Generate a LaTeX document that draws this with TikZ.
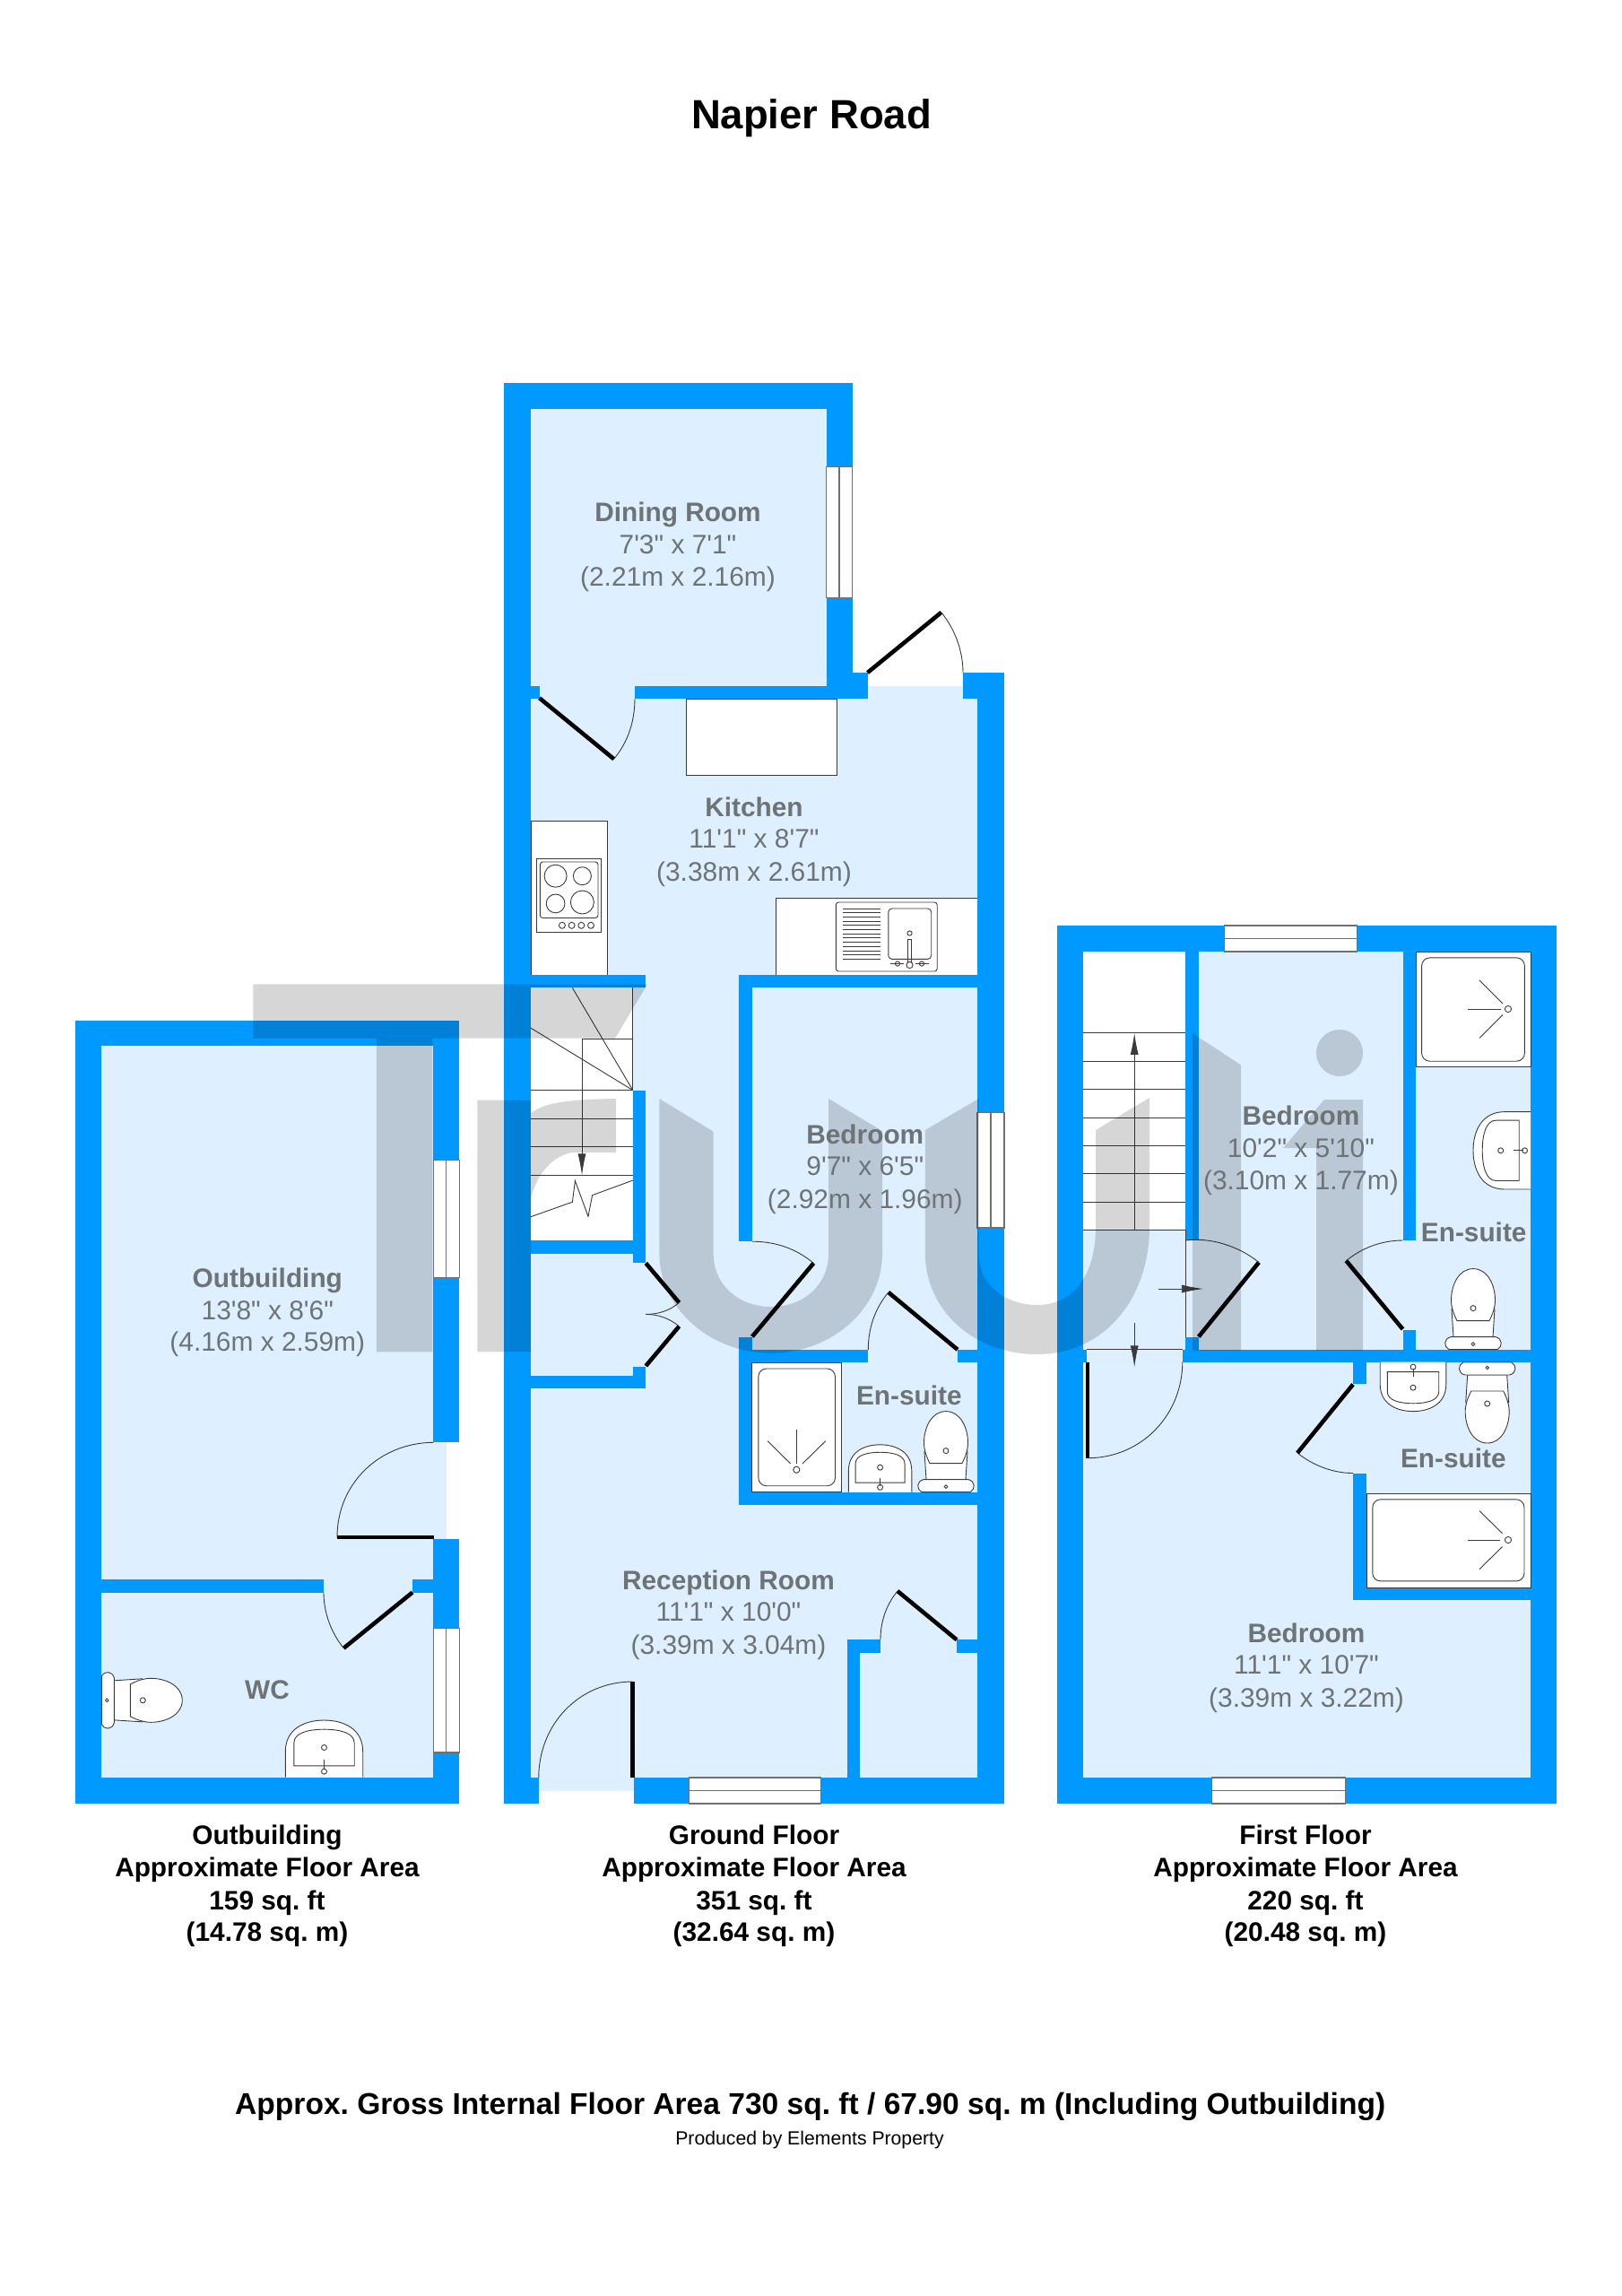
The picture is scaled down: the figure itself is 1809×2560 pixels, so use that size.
\documentclass[tikz,border=0pt]{standalone}
\usepackage{fontspec}
\usetikzlibrary{arrows.meta}
\newfontfamily\lib{Liberation Sans}
\frenchspacing
\definecolor{wallc}{HTML}{0099FF}
\definecolor{floorc}{HTML}{DEEFFF}
\definecolor{labc}{HTML}{6E7376}
\definecolor{fixc}{HTML}{3A3A3A}
\definecolor{winc}{HTML}{707070}
\tikzset{
  fix/.style={draw=fixc,line width=.9pt},
  doorleaf/.style={draw=black,line width=4.6pt},
  doorarc/.style={draw=fixc,line width=.9pt},
  whitefix/.style={fix,fill=white},
  winbox/.style={draw=winc,line width=1.2pt,fill=white},
  roomb/.style={anchor=base,inner sep=0pt,text=labc,font=\lib\bfseries\fontsize{29.8}{30}\selectfont},
  roomr/.style={anchor=base,inner sep=0pt,text=labc,font=\lib\fontsize{29.9}{30}\selectfont},
  capb/.style={anchor=base,inner sep=0pt,text=black,font=\lib\bfseries\fontsize{29.8}{30}\selectfont},
  arrowtip/.style={-{Latex[length=24pt,width=9pt]}},
}
\newcommand\wall[4]{\fill[wallc] (#1,#2) rectangle (#3,#4);}
\newcommand\floorr[4]{\fill[floorc] (#1,#2) rectangle (#3,#4);}
\newcommand\winv[4]{\draw[winbox] (#1,#3) rectangle (#2,#4);
  \draw[winc,line width=1.2pt] ({(#1+#2)/2},#3) -- ({(#1+#2)/2},#4);}
\newcommand\winh[4]{\draw[winbox] (#1,#3) rectangle (#2,#4);
  \draw[winc,line width=1.2pt] (#1,{(#3+#4)/2}) -- (#2,{(#3+#4)/2});}
\newcommand\door[6]{%
  \pgfmathsetmacro\dax{(#3-#1)/100}\pgfmathsetmacro\day{(#4-#2)/100}%
  \pgfmathsetmacro\dbx{(#5-#1)/100}\pgfmathsetmacro\dby{(#6-#2)/100}%
  \pgfmathsetmacro\dqa{\dax*\dax+\day*\day}%
  \pgfmathsetmacro\dqb{\dqa+\dax*\dbx+\day*\dby}%
  \pgfmathsetmacro\dkk{4/3*(sqrt(2*\dqa*\dqb)-\dqb)/(\dax*\dby-\day*\dbx)}%
  \draw[doorleaf] (#1,#2) -- (#3,#4);
  \draw[doorarc] (#3,#4) .. controls ({#3-\dkk*\day*100},{#4+\dkk*\dax*100}) and ({#5+\dkk*\dby*100},{#6-\dkk*\dbx*100}) .. (#5,#6);}
\newcommand\toilet[3]{\begin{scope}[shift={(#1,#2)},#3]
  \draw[whitefix] (-22,14) -- (-24,45) -- (24,45) -- (22,14) -- cycle;
  \draw[whitefix] (-27,0) .. controls (-33,3) and (-33,12) .. (-25,14) -- (25,14) .. controls (33,12) and (33,3) .. (27,0) -- cycle;
  \draw[whitefix] (0,90) .. controls (-16,90) and (-24.5,72) .. (-24.5,55) .. controls (-24.5,47) and (-22,40) .. (-18,32) -- (18,32) .. controls (22,40) and (24.5,47) .. (24.5,55) .. controls (24.5,72) and (16,90) .. (0,90) -- cycle;
  \draw[fix] (0,46) circle[radius=3pt];
  \draw[fix] (0,6) circle[radius=1.8pt];
\end{scope}}
\newcommand\basin[3]{\begin{scope}[shift={(#1,#2)},#3]
  \draw[whitefix] (-1,0) -- (-1,.45) .. controls (-1,.85) and (-.5,1) .. (0,1) .. controls (.5,1) and (1,.85) .. (1,.45) -- (1,0);
  \draw[fix] (-.78,.2) -- (-.78,.6) .. controls (-.78,.78) and (-.4,.84) .. (0,.84) .. controls (.4,.84) and (.78,.78) .. (.78,.6) -- (.78,.2) -- cycle;
  \draw[fix] (0,.52) circle[radius=3pt];
  \draw[fix,fill=white] (0,.1) circle[radius=3pt];
  \draw[fix] (0,.13) -- (0,.3);
\end{scope}}
\begin{document}
\begin{tikzpicture}[x=1pt,y=-1pt]
\useasboundingbox (0,0) rectangle (1809,2560);
\fill[white] (0,0) rectangle (1809,2560);

% ---------- floors
\floorr{592}{456}{921.5}{780}
\floorr{592}{779}{1090}{1982}
\floorr{967.5}{765}{1074}{780}
\floorr{600.8}{1981}{707.2}{1996.7}
\floorr{1208}{1061}{1707}{1982}
\floorr{113.3}{1166.4}{483.3}{1981.5}
\floorr{483}{1608.3}{497.7}{1715.7}

% ---------- white fixtures, ground floor
\draw[whitefix] (765.4,779) rectangle (933.8,864.6);
\draw[whitefix] (592,915.6) rectangle (677.8,1087.3);
\draw[whitefix] (865.3,1001.5) rectangle (1090,1087.3);
\fill[white] (592,1101.4) rectangle (705.7,1382.7);

% hob
\draw[whitefix] (598.6,957) rectangle (670,1039);
\draw[fix,rounded corners=3pt] (602.4,961) rectangle (667,1023.5);
\draw[fix] (619.6,976.7) circle[radius=12.5pt];
\draw[fix] (649.4,976.7) circle[radius=10pt];
\draw[fix] (619.6,1007.4) circle[radius=10.4pt];
\draw[fix] (649.4,1006) circle[radius=13pt];
\foreach \kx in {626.9,637.6,648.3,659}{\draw[fix] (\kx,1031.8) circle[radius=3.5pt];}

% sink
\draw[whitefix,rounded corners=3pt] (932.3,1006) rectangle (1045.2,1083);
\draw[fix,rounded corners=4pt] (990.8,1013) rectangle (1038.7,1069.4);
\foreach \i in {0,...,12}{\draw[fix] (939.5,{1013+\i*4.7}) -- (982,{1013+\i*4.7});}
\draw[fix] (1014.5,1040.5) circle[radius=2.6pt];
\draw[fix] (1012.5,1047.4) rectangle (1016.5,1075);
\draw[fix,fill=white] (1014.5,1076) circle[radius=3.6pt];
\draw[fix] (993,1074.5) -- (1008,1074.5);
\draw[fix] (1001,1074.5) circle[radius=2.6pt];
\draw[fix] (1021,1074.5) -- (1036,1074.5);
\draw[fix] (1028,1074.5) circle[radius=2.6pt];

% ---------- white fixtures, first floor
\fill[white] (1208,1061) rectangle (1322.3,1371.4);

% ---------- walls, ground floor
\wall{562}{426.6}{592}{2011}
\wall{592}{1982}{600.8}{2011}
\wall{562}{426.6}{950.6}{456}
\wall{921.5}{426.6}{950.6}{520.3}
\wall{921.5}{666.8}{950.6}{779}
\wall{708}{765}{967.5}{779}
\wall{950.6}{750}{967.5}{779}
\wall{592}{765}{601.6}{779}
\wall{1090}{750}{1120}{2011}
\wall{1074}{750}{1090}{779}
\wall{592}{1087.3}{720.3}{1101.4}
\wall{705.7}{1215.5}{720.3}{1408}
\wall{592}{1382.7}{705.7}{1397.6}
\wall{705.7}{1524}{720.3}{1548.4}
\wall{592}{1533.9}{720.3}{1548.4}
\wall{824.3}{1087.3}{1120}{1101.4}
\wall{824.3}{1087.3}{838.9}{1384.2}
\wall{824.3}{1491.4}{838.9}{1677.8}
\wall{824.3}{1504.8}{968.3}{1519.3}
\wall{1068}{1504.8}{1090}{1519.3}
\wall{824.3}{1663.6}{1120}{1677.8}
\wall{944.5}{1828.3}{959.4}{1982}
\wall{944.5}{1828.3}{982}{1843}
\wall{1067}{1828.3}{1090}{1843}
\wall{707.2}{1982}{1120}{2011}

% ---------- walls, first floor
\wall{1179}{1032}{1736}{1061}
\wall{1179}{1032}{1208}{2011}
\wall{1707}{1032}{1736}{2011}
\wall{1179}{1982}{1736}{2011}
\wall{1322.3}{1061}{1336.8}{1383}
\wall{1322.3}{1491}{1336.8}{1519}
\wall{1564.5}{1061}{1579}{1383}
\wall{1564.5}{1483}{1579}{1504.6}
\wall{1318.8}{1504.6}{1707}{1519}
\wall{1208}{1504.6}{1211.7}{1519}
\wall{1509}{1519}{1524}{1542.5}
\wall{1509}{1642.5}{1524}{1784.3}
\wall{1509}{1770}{1707}{1784.3}

% ---------- walls, outbuilding
\wall{84.3}{1137.6}{512.3}{1166.4}
\wall{84.3}{1137.6}{113.3}{2010.8}
\wall{84.3}{1981.5}{512.3}{2010.8}
\wall{483.3}{1137.6}{512.3}{1608.3}
\wall{483.3}{1715.7}{512.3}{2010.8}
\wall{113.3}{1761}{361}{1775.5}
\wall{460}{1761}{483.3}{1775.5}

% ---------- windows
\winv{921.5}{950.6}{520.3}{666.8}
\winv{1090}{1120}{1240.7}{1369}
\winh{768.5}{915.4}{1982}{2011}
\winh{1365.5}{1513.6}{1032}{1061}
\winh{1351.7}{1500.6}{1982}{2011}
\winv{483.3}{512.3}{1293.7}{1424.6}
\winv{483.3}{512.3}{1815.4}{1954}

% ---------- stairs, ground floor
\draw[fix] (705.7,1101.4) -- (705.7,1215.5);
\draw[fix] (649,1215.5) -- (649,1158.5) -- (705.7,1158.5);
\draw[fix] (705.7,1215.5) -- (638.4,1101.4);
\draw[fix] (705.7,1215.5) -- (592,1146.2);
\foreach \sy in {1215.5,1247,1278.6,1310.4}{\draw[fix] (592,\sy) -- (705.7,\sy);}
\draw[fix,arrowtip] (649,1158.5) -- (649,1310.4);
\draw[fix] (592,1356.7) -- (638.4,1340.2) -- (641.4,1316.5) -- (656,1356.3) -- (660.6,1332.6) -- (705.7,1316.1);

% ---------- stairs, first floor
\foreach \sy in {1151.8,1183,1214.6,1246,1277,1308.6,1340.4,1371.4}{\draw[fix] (1208,\sy) -- (1322.3,\sy);}
\draw[fix,arrowtip] (1265.2,1371.4) -- (1265.2,1151.8);
\draw[fix] (1322.3,1371.4) -- (1322.3,1491);
\draw[fix] (1211.7,1504.6) -- (1318.8,1504.6);
\draw[fix,arrowtip] (1292,1437) -- (1341.8,1437);
\draw[fix,arrowtip] (1265.2,1475) -- (1265.2,1524.3);

% ---------- doors
\door{601.6}{778.3}{684.7}{846.3}{708}{779}
\door{967.5}{750}{1049.8}{682.8}{1074}{750}
\door{720.3}{1408.4}{757.4}{1452.4}{720.3}{1465.4}
\door{720.3}{1523}{757.4}{1478.8}{720.3}{1465.4}
\door{838.9}{1490.3}{907.4}{1408.4}{838.9}{1384.2}
\door{1068}{1504.8}{990.8}{1440.9}{968.3}{1504.8}
\door{1067}{1828.3}{1001}{1774}{982}{1828.3}
\door{705.7}{1982}{705.7}{1875}{600.8}{1982}
\door{1336.8}{1490.4}{1404}{1407.5}{1322.3}{1383}
\door{1564.5}{1482}{1501.4}{1405.7}{1564.5}{1383}
\door{1213}{1518.6}{1213}{1625.7}{1318.8}{1518.6}
\door{1509}{1543.6}{1447}{1620}{1509}{1642.5}
\door{484}{1714}{376}{1714}{483.3}{1608.3}
\door{460}{1775.5}{383.3}{1837.7}{361}{1775.5}

% ---------- showers and bath
\draw[whitefix] (838.9,1519.3) rectangle (938.4,1663.6);
\draw[fix,rounded corners=9pt] (845.8,1526) rectangle (931.5,1656.7);
\draw[fix] (888.3,1638.7) circle[radius=3.6pt];
\draw[fix] (888.3,1593.6) -- (888.3,1632);
\draw[fix] (856,1606.6) -- (881.7,1632);
\draw[fix] (920.8,1606.6) -- (895,1632);

\draw[whitefix] (1579,1061) rectangle (1707,1189.6);
\draw[fix,rounded corners=9pt] (1585.6,1067.9) rectangle (1700.4,1183.2);
\draw[fix] (1682,1125) circle[radius=3.6pt];
\draw[fix] (1636.5,1125) -- (1673.6,1125);
\draw[fix] (1650,1092.9) -- (1676,1119);
\draw[fix] (1650,1157.5) -- (1676,1131.4);

\draw[whitefix] (1524,1665) rectangle (1707,1770);
\draw[fix,rounded corners=9pt] (1530.8,1671.8) rectangle (1700,1762.9);
\draw[fix] (1682,1717) circle[radius=3.6pt];
\draw[fix] (1636.5,1717) -- (1672.8,1717);
\draw[fix] (1650,1684.6) -- (1675.5,1709.6);
\draw[fix] (1650,1749.6) -- (1675.5,1724.6);

% ---------- sanitary ware
\toilet{1055}{1663.6}{x={(1pt,0pt)},y={(0pt,1pt)}}
\toilet{1643}{1504.6}{x={(1pt,0pt)},y={(0pt,1pt)}}
\toilet{1658.7}{1519}{x={(1pt,0pt)},y={(0pt,-1pt)}}
\toilet{113.3}{1895.8}{x={(0pt,1pt)},y={(1pt,0pt)}}
\basin{981.6}{1663.6}{x={(35.2pt,0pt)},y={(0pt,52.8pt)}}
\basin{1576}{1518.6}{x={(36.8pt,0pt)},y={(0pt,-55pt)}}
\basin{1707}{1282.8}{x={(0pt,43.2pt)},y={(-64pt,0pt)}}
\basin{361.5}{1981.5}{x={(43.2pt,0pt)},y={(0pt,63.5pt)}}

% ---------- watermark
\fill[black,opacity=.16]
  (282.3,1097.3) -- (722,1097.3) -- (686,1157.7) -- (482.3,1157.7) -- (482.3,1507.3) -- (419.8,1507.3) -- (419.8,1157.7) -- (282.3,1157.7) -- cycle
  (532.3,1226.7) -- (592,1226.7) -- (592,1241) .. controls (605,1232) and (620,1226) .. (687.2,1225) -- (687.2,1285) -- (637,1285) .. controls (615,1290) and (598,1310) .. (592,1337) -- (592,1507.3) -- (532.3,1507.3) -- cycle
  (735.4,1225) -- (795.7,1261.7) -- (795.7,1397.6) .. controls (795.7,1432) and (823,1457) .. (860,1457) .. controls (897,1457) and (924,1432) .. (924,1397.6) -- (924,1225) -- (984,1261) -- (984,1397.6) .. controls (984,1458) and (929,1508.6) .. (860,1508.6) .. controls (791,1508.6) and (735.4,1458) .. (735.4,1397.6) -- cycle
  (1031.8,1260) -- (1091.5,1225) -- (1091.5,1397) .. controls (1091.5,1432) and (1120,1455) .. (1157,1455) .. controls (1195,1455) and (1222,1425) .. (1222,1367) -- (1222,1260) -- (1282,1224) -- (1282,1367) .. controls (1282,1450) and (1230,1510) .. (1157,1510) .. controls (1085,1510) and (1031.8,1460) .. (1031.8,1397) -- cycle
  (1330,1152) -- (1384,1187.5) -- (1384,1506) -- (1330,1506) -- cycle
  (1520,1226) -- (1477,1226) -- (1431,1280) -- (1468,1280) -- (1468,1506) -- (1520,1506) -- cycle
  (1494,1174) circle[radius=26pt];

% ---------- room labels
\node[roomb] (dining1) at (756,581.5) {Dining Room};
\node[roomr] (dining2) at (756,617) {7'3" x 7'1"};
\node[roomr] (dining3) at (756,653.5) {(2.21m x 2.16m)};
\node[roomb] (kitchen1) at (841,910) {Kitchen};
\node[roomr] (kitchen2) at (841,945.5) {11'1" x 8'7"};
\node[roomr] (kitchen3) at (841,982) {(3.38m x 2.61m)};
\node[roomb] (bedg1) at (964.8,1275.3) {Bedroom};
\node[roomr] (bedg2) at (964.8,1310.5) {9'7" x 6'5"};
\node[roomr] (bedg3) at (964.8,1347) {(2.92m x 1.96m)};
\node[roomb] (ensg) at (1013.8,1566.2) {En-suite};
\node[roomb] (recep1) at (812.5,1772.8) {Reception Room};
\node[roomr] (recep2) at (812.5,1807.8) {11'1" x 10'0"};
\node[roomr] (recep3) at (812.5,1844.8) {(3.39m x 3.04m)};
\node[roomb] (bedf1) at (1450.9,1254.5) {Bedroom};
\node[roomr] (bedf2) at (1450.9,1290) {10'2" x 5'10"};
\node[roomr] (bedf3) at (1450.9,1326) {(3.10m x 1.77m)};
\node[roomb] (ensf1) at (1643.7,1384.8) {En-suite};
\node[roomb] (ensf2) at (1620.8,1636.2) {En-suite};
\node[roomb] (bedl1) at (1457,1831.5) {Bedroom};
\node[roomr] (bedl2) at (1457,1866.5) {11'1" x 10'7"};
\node[roomr] (bedl3) at (1457,1903) {(3.39m x 3.22m)};
\node[roomb] (outb1) at (298.3,1435.5) {Outbuilding};
\node[roomr] (outb2) at (298.3,1471) {13'8" x 8'6"};
\node[roomr] (outb3) at (298.3,1506) {(4.16m x 2.59m)};
\node[roomb] (wc) at (298,1894) {WC};

% ---------- captions
\node[anchor=base,inner sep=0pt,font=\lib\bfseries\fontsize{45.5}{46}\selectfont] (title) at (905,143) {Napier Road};
\node[capb] (c11) at (298,2056) {Outbuilding};
\node[capb] (c12) at (298,2092) {Approximate Floor Area};
\node[capb] (c13) at (298,2129) {159 sq. ft};
\node[capb] (c14) at (298,2164.5) {(14.78 sq. m)};
\node[capb] (c21) at (841,2056) {Ground Floor};
\node[capb] (c22) at (841,2092) {Approximate Floor Area};
\node[capb] (c23) at (841,2129) {351 sq. ft};
\node[capb] (c24) at (841,2164.5) {(32.64 sq. m)};
\node[capb] (c31) at (1456,2056) {First Floor};
\node[capb] (c32) at (1456,2092) {Approximate Floor Area};
\node[capb] (c33) at (1456,2129) {220 sq. ft};
\node[capb] (c34) at (1456,2164.5) {(20.48 sq. m)};
\node[anchor=base,inner sep=0pt,font=\lib\bfseries\fontsize{33.56}{35}\selectfont] (gross) at (903.7,2357) {Approx. Gross Internal Floor Area 730 sq. ft / 67.90 sq. m (Including Outbuilding)};
\node[anchor=base,inner sep=0pt,font=\lib\fontsize{21.2}{22}\selectfont] (prod) at (903,2391) {Produced by Elements Property};
\end{tikzpicture}
\end{document}
